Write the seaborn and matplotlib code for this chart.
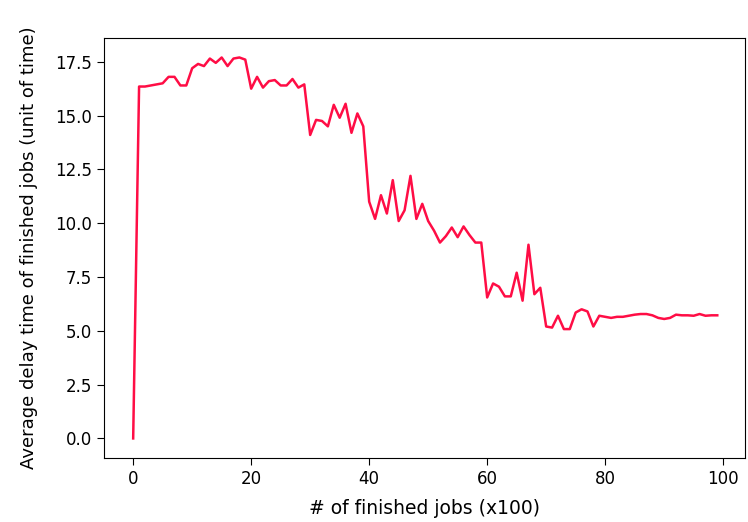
import numpy as np
import pandas as pd
import matplotlib
matplotlib.use("Agg")
import matplotlib.pyplot as plt
import seaborn as sns

# finished jobs (x100) and average delay
jobs = list(range(100))
delay = [
    0.0, 16.35, 16.35, 16.4, 16.45, 16.5, 16.8, 16.8, 16.4, 16.4,
    17.2, 17.4, 17.3, 17.65, 17.45, 17.7, 17.3, 17.65, 17.7, 17.6,
    16.25, 16.8, 16.3, 16.6, 16.65, 16.4, 16.4, 16.7, 16.3, 16.45,
    14.1, 14.8, 14.75, 14.5, 15.5, 14.9, 15.55, 14.2, 15.1, 14.5,
    11.0, 10.2, 11.3, 10.45, 12.0, 10.1, 10.6, 12.2, 10.2, 10.9,
    10.1, 9.65, 9.1, 9.4, 9.8, 9.35, 9.85, 9.45, 9.1, 9.1,
    6.55, 7.2, 7.05, 6.6, 6.6, 7.7, 6.4, 9.0, 6.7, 7.0,
    5.2, 5.15, 5.7, 5.08, 5.08, 5.85, 6.0, 5.9, 5.2, 5.7,
    5.65, 5.6, 5.65, 5.65, 5.7, 5.75, 5.78, 5.78, 5.72, 5.6,
    5.55, 5.6, 5.75, 5.72, 5.72, 5.7, 5.78, 5.7, 5.72, 5.72,
]

df = pd.DataFrame({"jobs": jobs, "delay": delay})

plt.rcParams["font.family"] = ["DejaVu Sans"]
fig, ax = plt.subplots(figsize=(7.48, 5.22), dpi=100)
fig.subplots_adjust(left=0.139, right=0.996, bottom=0.123, top=0.927)

sns.lineplot(data=df, x="jobs", y="delay", color="#ff0d45", linewidth=1.8, ax=ax)

ax.set_xlim(-4.95, 103.7)
ax.set_ylim(-0.9, 18.6)
ax.set_xticks([0, 20, 40, 60, 80, 100])
ax.set_yticks([0.0, 2.5, 5.0, 7.5, 10.0, 12.5, 15.0, 17.5])
ax.set_yticklabels(["0.0", "2.5", "5.0", "7.5", "10.0", "12.5", "15.0", "17.5"])
ax.tick_params(labelsize=12, length=5)
ax.set_xlabel("# of finished jobs (x100)", fontsize=13.5, labelpad=8)
ax.set_ylabel("Average delay time of finished jobs (unit of time)", fontsize=13, labelpad=12)

plt.savefig("out.png", dpi=100)
